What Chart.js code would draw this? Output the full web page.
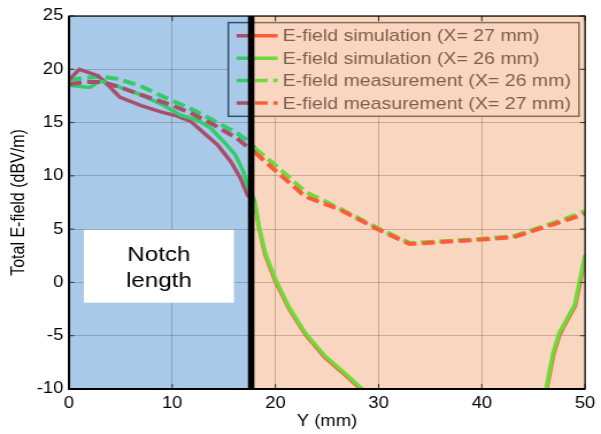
<!DOCTYPE html>
<html>
<head>
<meta charset="utf-8">
<script src="https://cdn.jsdelivr.net/npm/chart.js@4/dist/chart.umd.min.js"></script>
<style>
  html, body { margin: 0; padding: 0; background: #fff; overflow: hidden; }
  #chart { display: block; }
</style>
</head>
<body>
<!-- the reference picture is stretched sideways, so the canvas is drawn narrower and widened by css -->
<canvas id="chart" width="523" height="434" style="width:601px;height:434px"></canvas>
<script>
const SX = 601 / 523;
const notchMm = 17.65;

const xTicks = [0, 10, 20, 30, 40, 50];
const yTicks = [-10, -5, 0, 5, 10, 15, 20, 25];

const labels = [
  "E-field simulation (X= 27 mm)",
  "E-field simulation (X= 26 mm)",
  "E-field measurement (X= 26 mm)",
  "E-field measurement (X= 27 mm)"
];

const simX27Mm = [0, 1, 2.8, 3.6, 4.9, 7.0, 8.9, 10.5, 11.8, 13.1, 14.4, 15.7, 16.6, 17.3, 18.0, 18.4, 19.0, 20.0, 21.3, 22.9, 24.8, 26.7, 28.3, 30.0, 45.6, 46.25, 46.95, 47.55, 48.25, 49.05, 49.55, 50];
const simX27Db = [19.0, 20.0, 19.4, 18.7, 17.4, 16.6, 16.0, 15.6, 15.1, 14.0, 12.9, 11.3, 9.8, 8.2, 7.45, 5.15, 2.6, 0.1, -2.45, -4.9, -7.05, -8.65, -10.05, -11.5, -13.0, -10.2, -6.75, -4.9, -3.6, -2.2, 0.1, 2.45];

const simX26Mm = [0, 2.0, 3.0, 4.7, 7.0, 9.2, 10.8, 12.5, 13.7, 15.0, 16.1, 16.9, 17.3, 18.0, 18.4, 19.0, 20.0, 21.3, 22.9, 24.8, 26.7, 28.3, 30.0, 45.5, 46.2, 46.9, 47.5, 48.2, 49.0, 49.5, 50];
const simX26Db = [18.5, 18.3, 18.9, 18.4, 17.6, 16.6, 15.7, 15.2, 14.5, 13.2, 12.0, 10.4, 9.1, 7.6, 5.3, 2.8, 0.3, -2.3, -4.75, -6.9, -8.5, -9.9, -11.4, -13.0, -10.1, -6.6, -4.75, -3.5, -2.1, 0.25, 2.6];

const measMm = [0, 1.5, 3.1, 4.7, 7.0, 9.2, 11.8, 14.0, 16.3, 17.3, 18.0, 20.0, 22.9, 26.1, 29.9, 33.0, 39.6, 43.1, 45.0, 47.9, 50];
const measX26Db = [19.0, 19.2, 19.3, 19.1, 18.4, 17.4, 16.3, 15.2, 14.0, 13.3, 12.6, 11.0, 8.5, 7.0, 5.1, 3.7, 4.05, 4.35, 4.95, 5.9, 6.7];
const measX27Db = [18.6, 18.8, 18.8, 18.4, 17.6, 16.9, 15.9, 14.8, 13.5, 12.7, 12.2, 10.5, 8.05, 6.9, 5.0, 3.6, 4.0, 4.25, 4.85, 5.75, 6.45];

const blueBg = "#a9c9e8";
const peachBg = "#f9d6bf";
const red = "#ff5b3b", maroon = "#a84f6d";
const green = "#6edb3b", teal = "#33cc66";
const dash = [11, 5];
const FONT = '"Liberation Sans", Arial, sans-serif';

function series(label, xs, ys, color, shade, borderDash, order) {
  return {
    label,
    data: xs.map((v, i) => ({ x: v, y: ys[i] })),
    borderColor: color,
    shade,
    borderDash,
    order,
    borderWidth: borderDash.length ? 4 : 3.5,
    pointRadius: 0,
    fill: false,
    clip: 0,
    segment: { borderColor: c => c.p0.parsed.x < notchMm ? shade : color }
  };
}

const datasets = [
  series(labels[0], simX27Mm, simX27Db, red, maroon, [], 2),
  series(labels[1], simX26Mm, simX26Db, green, teal, [], 1),
  series(labels[2], measMm, measX26Db, green, teal, dash, 3),
  series(labels[3], measMm, measX27Db, red, maroon, dash, 0)
];

function drawLegend(chart, nx) {
  const { ctx, chartArea: a } = chart;
  ctx.save();
  ctx.font = "17px " + FONT;
  const sets = chart.data.datasets;
  const textW = Math.max(...sets.map(d => ctx.measureText(d.label).width));
  const padL = 7.2, sample = 35.7, gap = 4.4, padR = 7, rowH = 22.4, padT = 13.2;
  const right = a.right - 5.3;
  const left = right - (padL + sample + gap + textW + padR);
  const top = a.top + 6.6, h = 93.7;

  const sides = [
    { x0: left - 2, x1: nx, bg: blueBg, edge: "#33506f", dark: true },
    { x0: nx, x1: right + 2, bg: peachBg, edge: "#8a6a58", dark: false }
  ];
  sides.forEach(s => {
    ctx.save();
    ctx.beginPath();
    ctx.rect(s.x0, top - 2, s.x1 - s.x0, h + 4);
    ctx.clip();
    ctx.fillStyle = s.bg;
    ctx.fillRect(left, top, right - left, h);
    ctx.strokeStyle = s.edge;
    ctx.lineWidth = 1.5;
    ctx.strokeRect(left, top, right - left, h);
    sets.forEach((d, i) => {
      const y = top + padT + i * rowH;
      ctx.strokeStyle = s.dark ? d.shade : d.borderColor;
      ctx.lineWidth = 3.5;
      ctx.setLineDash(d.borderDash);
      ctx.beginPath();
      ctx.moveTo(left + padL, y);
      ctx.lineTo(left + padL + sample, y);
      ctx.stroke();
      ctx.setLineDash([]);
    });
    ctx.restore();
  });

  ctx.fillStyle = "#7d5f4f";
  ctx.textBaseline = "middle";
  ctx.textAlign = "left";
  sets.forEach((d, i) => {
    ctx.fillText(d.label, left + padL + sample + gap, top + padT + i * rowH + 1);
  });
  ctx.restore();
}

const notchPlugin = {
  id: "notch",
  beforeDraw(chart) {
    const { ctx, chartArea: a, scales: { x } } = chart;
    const nx = x.getPixelForValue(notchMm);
    ctx.save();
    ctx.fillStyle = "#fff";
    ctx.fillRect(0, 0, chart.width, chart.height);
    ctx.fillStyle = blueBg;
    ctx.fillRect(a.left, a.top, nx - a.left, a.bottom - a.top);
    ctx.fillStyle = peachBg;
    ctx.fillRect(nx, a.top, a.right - nx, a.bottom - a.top);
    ctx.restore();
  },
  afterDatasetsDraw(chart) {
    const { ctx, chartArea: a, scales: { x, y } } = chart;
    const nx = x.getPixelForValue(notchMm);

    // white "Notch length" label box
    const bx0 = x.getPixelForValue(1.44), bx1 = x.getPixelForValue(15.98);
    const by0 = y.getPixelForValue(4.93), by1 = y.getPixelForValue(-1.9);
    ctx.save();
    ctx.fillStyle = "#fff";
    ctx.fillRect(bx0, by0, bx1 - bx0, by1 - by0);
    ctx.fillStyle = "#000";
    ctx.font = "21px " + FONT;
    ctx.textAlign = "center";
    ctx.textBaseline = "alphabetic";
    const cx = (bx0 + bx1) / 2;
    ctx.fillText("Notch", cx, by0 + 31.5);
    ctx.fillText("length", cx, by0 + 57.5);
    ctx.restore();

    drawLegend(chart, nx);

    ctx.save();
    // notch marker
    ctx.fillStyle = "#000";
    ctx.fillRect(nx - 2.8, a.top, 5.6, a.bottom - a.top);

    // small inner tick marks
    ctx.strokeStyle = "#333";
    ctx.lineWidth = 1;
    ctx.beginPath();
    xTicks.forEach(v => {
      const px = x.getPixelForValue(v);
      ctx.moveTo(px, a.bottom); ctx.lineTo(px, a.bottom - 5);
      ctx.moveTo(px, a.top); ctx.lineTo(px, a.top + 5);
    });
    yTicks.forEach(v => {
      const py = y.getPixelForValue(v);
      ctx.moveTo(a.left, py); ctx.lineTo(a.left + 4.5, py);
      ctx.moveTo(a.right, py); ctx.lineTo(a.right - 4.5, py);
    });
    ctx.stroke();

    // axes frame
    ctx.strokeStyle = "#000";
    ctx.lineWidth = 1.2;
    ctx.strokeRect(a.left, a.top, a.right - a.left, a.bottom - a.top);
    ctx.lineWidth = 2;
    ctx.beginPath();
    ctx.moveTo(a.left, a.top); ctx.lineTo(a.left, a.bottom); ctx.lineTo(a.right, a.bottom);
    ctx.stroke();
    ctx.restore();
  }
};

const gridColor = "rgba(40,20,0,0.22)";

new Chart(document.getElementById("chart"), {
  type: "line",
  data: { datasets },
  options: {
    responsive: false,
    animation: false,
    devicePixelRatio: 1,
    events: [],
    layout: { padding: { top: 16, right: 10.4, left: 0, bottom: 0 } },
    plugins: { legend: { display: false }, tooltip: { enabled: false } },
    scales: {
      x: {
        type: "linear",
        min: 0,
        max: 50,
        afterBuildTicks: s => { s.ticks = xTicks.map(v => ({ value: v })); },
        afterFit: s => { s.height = 45; },
        ticks: { font: { family: FONT, size: 16 }, color: "#000", padding: 5, maxRotation: 0 },
        grid: { color: gridColor, drawTicks: false, lineWidth: 1 },
        border: { display: false },
        title: { display: true, text: "Y (mm)", color: "#000", font: { family: FONT, size: 16 }, padding: { top: 0, bottom: 3 } }
      },
      y: {
        type: "linear",
        min: -10,
        max: 25,
        afterBuildTicks: s => { s.ticks = yTicks.map(v => ({ value: v })); },
        afterFit: s => { s.width = 69 / SX; },
        ticks: { font: { family: FONT, size: 16 }, color: "#000", padding: 5 },
        grid: { color: gridColor, drawTicks: false, lineWidth: 1 },
        border: { display: false },
        title: { display: true, text: "Total E-field (dBV/m)", color: "#000", font: { family: FONT, size: 16 }, padding: { top: 7, bottom: 0 } }
      }
    }
  },
  plugins: [notchPlugin]
});
</script>
</body>
</html>
